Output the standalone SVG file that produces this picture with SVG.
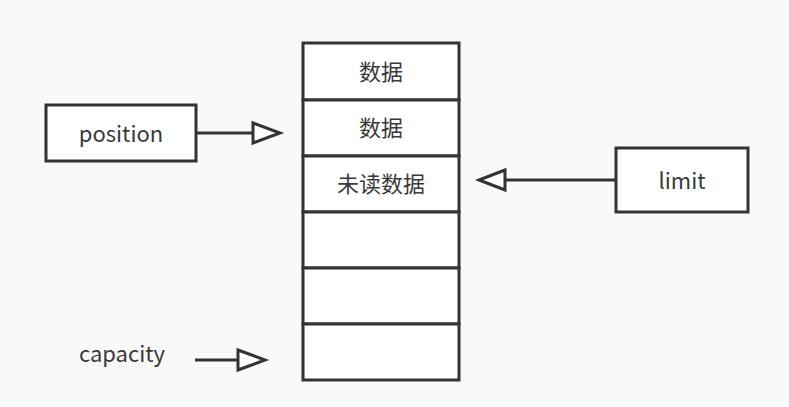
<svg xmlns="http://www.w3.org/2000/svg" width="789" height="407" viewBox="0 0 789 407">
<style>
.b{fill:#fff;stroke:#333;stroke-width:3}
.t{font-family:"Microsoft YaHei","Noto Sans CJK SC",sans-serif;font-size:22px;fill:#3a3a3a;text-anchor:middle}
.l{stroke:#333;stroke-width:3;fill:none}
.h{fill:#fff;stroke:#333;stroke-width:3}
</style>
<rect width="789" height="407" fill="#f9f9f9"/>
<g id="buffer">
<rect class="b" x="303" y="43" width="156" height="57"/>
<rect class="b" x="303" y="100" width="156" height="56"/>
<rect class="b" x="303" y="156" width="156" height="56"/>
<rect class="b" x="303" y="212" width="156" height="56"/>
<rect class="b" x="303" y="268" width="156" height="56"/>
<rect class="b" x="303" y="324" width="156" height="56"/>
<text class="t" x="381" y="80">数据</text>
<text class="t" x="381" y="136">数据</text>
<text class="t" x="381" y="192">未读数据</text>
</g>
<g id="position"><rect class="b" x="46" y="105" width="150" height="56"/><text class="t" x="121" y="142">position</text></g>
<g id="limit"><rect class="b" x="616" y="148" width="132" height="64"/><text class="t" x="682" y="189">limit</text></g>
<g id="capacity"><text class="t" x="122" y="362">capacity</text></g>
<g id="connectors">
<line class="l" x1="196" y1="133" x2="253" y2="133"/><path class="h" d="M253 123 L280 133 L253 143 Z"/>
<line class="l" x1="616" y1="180" x2="505" y2="180"/><path class="h" d="M505 170 L479 180 L505 190 Z"/>
<line class="l" x1="195" y1="360" x2="238" y2="360"/><path class="h" d="M238 350 L265 360 L238 370 Z"/>
</g>
</svg>
